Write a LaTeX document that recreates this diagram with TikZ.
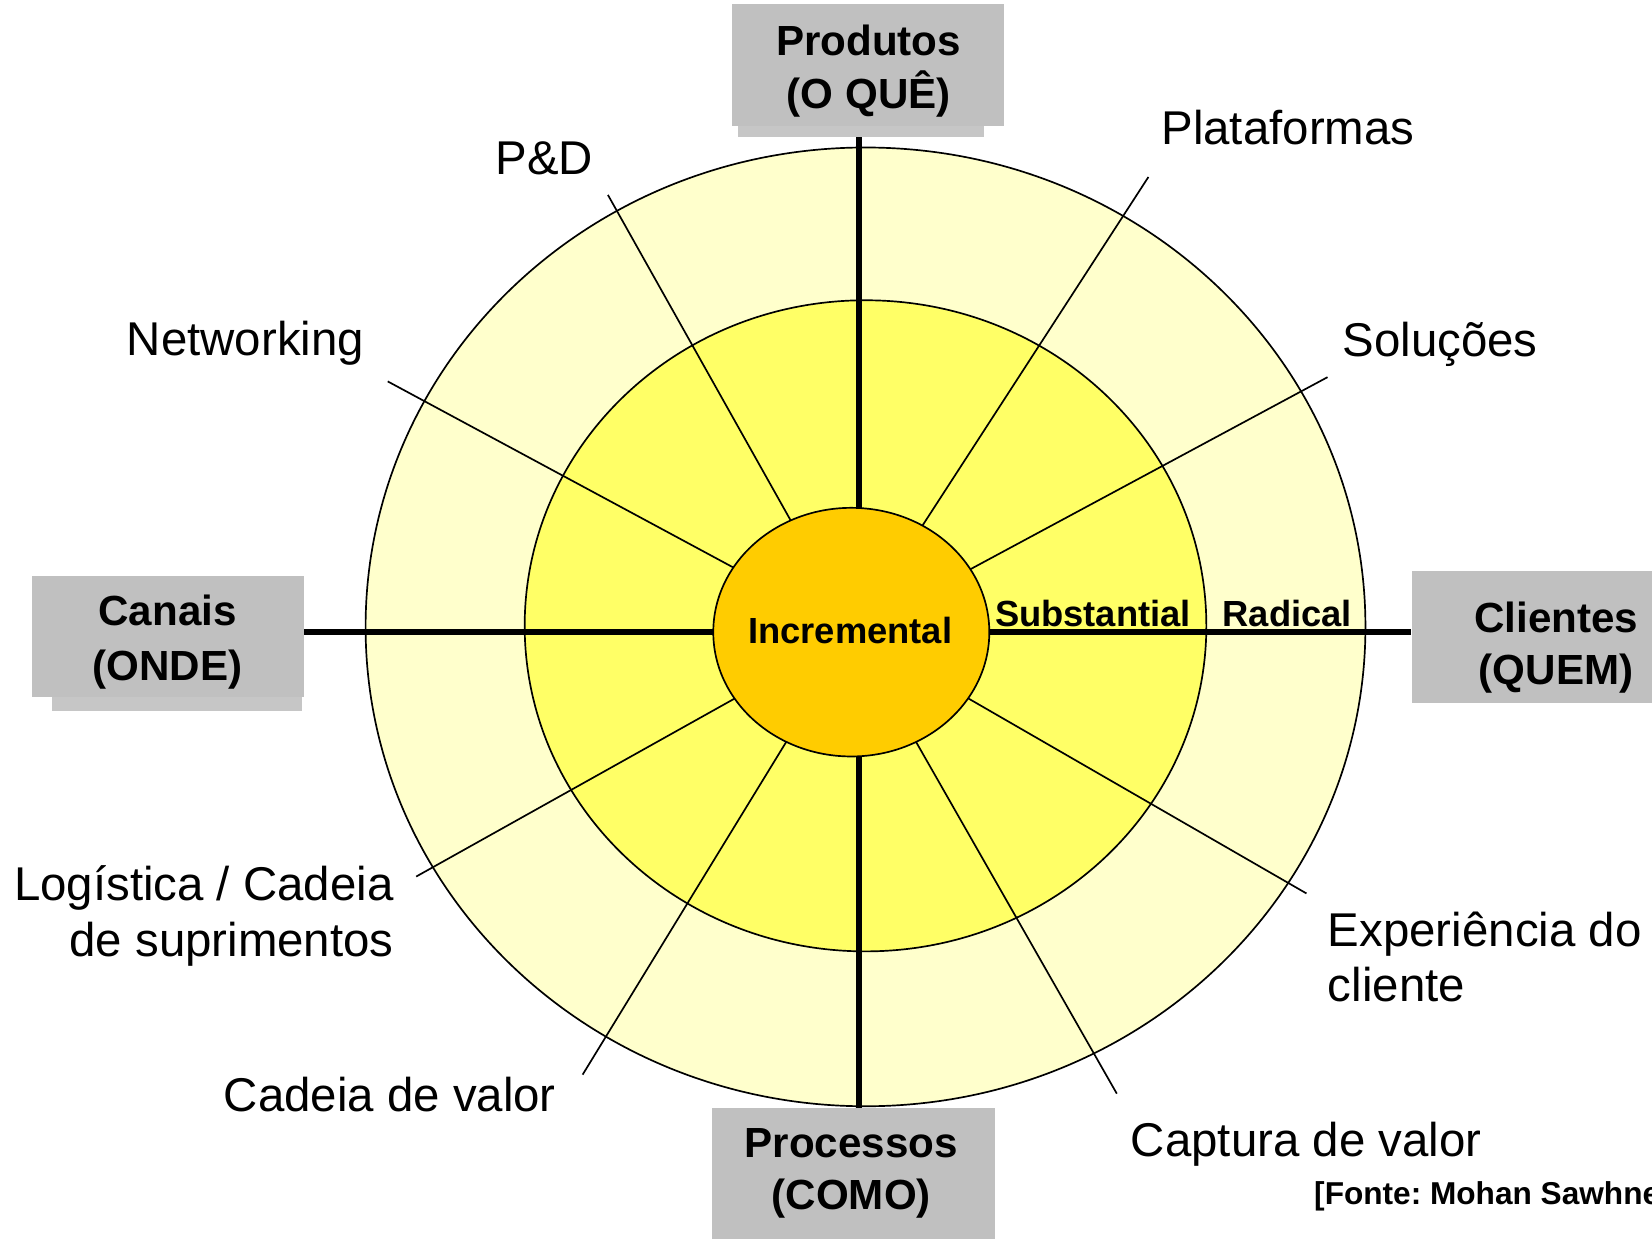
\documentclass[tikz,border=0pt]{standalone}
\usepackage{fontspec}
\setmainfont{Liberation Sans}
\usetikzlibrary{shapes.geometric}
\definecolor{outerY}{HTML}{FFFFCC}
\definecolor{midY}{HTML}{FFFF66}
\definecolor{innerY}{HTML}{FFCC00}
\definecolor{boxgray}{HTML}{C0C0C0}
\definecolor{stripgray}{HTML}{C6C6C6}
\tikzset{
  lbl/.style={font=\fontsize{22.5}{27}\selectfont, inner sep=0pt},
  boxlbl/.style={font=\bfseries\fontsize{20}{24}\selectfont, inner sep=0pt, anchor=base},
  ringlbl/.style={font=\bfseries\fontsize{17.25}{20}\selectfont, inner sep=0pt},
  srclbl/.style={font=\bfseries\fontsize{15}{18}\selectfont, inner sep=0pt},
  graybox/.style={fill=boxgray, draw=none, inner sep=0pt, rectangle},
  stripbox/.style={fill=stripgray, draw=none, inner sep=0pt, rectangle},
  ringline/.style={draw=black, line width=0.8pt},
  spoke/.style={draw=black, line width=0.8pt},
  axisline/.style={draw=black, line width=2.85pt}
}
\begin{document}
\frenchspacing
\begin{tikzpicture}[x=0.5pt,y=-0.5pt]
\useasboundingbox (0,0) rectangle (1568,1176);
\clip (0,0) rectangle (1568,1176);

% rings
\fill[outerY] (821.5,595) ellipse [x radius=474.5, y radius=455];
\draw[ringline] (821.5,595) ellipse [x radius=474.5, y radius=455];
\fill[midY] (821.5,594) ellipse [x radius=323.5, y radius=309];
\draw[ringline] (821.5,594) ellipse [x radius=323.5, y radius=309];

% spokes
\coordinate (c) at (810,600);
\coordinate (pd) at (577,185);
\coordinate (plat) at (1090,168);
\coordinate (sol) at (1260,358);
\coordinate (net) at (368,362);
\coordinate (log) at (395,832);
\coordinate (cad) at (553,1020);
\coordinate (cap) at (1060,1038);
\coordinate (exp) at (1240,848);
\foreach \e in {pd,plat,sol,net,log,cad,cap,exp}
  \draw[spoke] (c) -- (\e);

% boxes
\node[graybox, minimum width=129pt, minimum height=57.75pt] (prod) at (824,61.75) {};
\node[stripbox, minimum width=117pt, minimum height=5.25pt] (prodsh) at (817,124.75) {};
\node[graybox, minimum width=128.9pt, minimum height=57.4pt] (can) at (159.6,604.1) {};
\node[stripbox, minimum width=119pt, minimum height=6.75pt] (cansh) at (168,668.25) {};
\node[graybox, minimum width=130pt, minimum height=62.5pt] (cli) at (1470,604.5) {};
\node[graybox, minimum width=134.2pt, minimum height=74pt] (proc) at (809.8,1126) {};

% axes
\coordinate (axc) at (815,600);
\draw[axisline] (prodsh.south -| axc) -- (proc.north -| axc);
\draw[axisline] (can.east |- axc) -- (cli.west |- axc);

% inner ellipse
\node[ellipse, fill=innerY, draw=black, line width=0.8pt, inner sep=0pt,
      minimum width=131pt, minimum height=118pt] (inc) at (808,600) {};
\node[ringlbl, anchor=base] (incl) at (807,611) {Incremental};

% box labels
\node[boxlbl] (prodA) at (824.5,53) {Produtos};
\node[boxlbl] (prodB) at (824.5,103) {(O QUÊ)};
\node[boxlbl] (canA) at (159,594) {Canais};
\node[boxlbl] (canB) at (159,646) {(ONDE)};
\node[boxlbl] (cliA) at (1477,600) {Clientes};
\node[boxlbl] (cliB) at (1477,650) {(QUEM)};
\node[boxlbl] (procA) at (808,1099) {Processos};
\node[boxlbl] (procB) at (808,1148) {(COMO)};

% ring labels
\node[ringlbl, anchor=base west] (subst) at (944,595) {Substantial};
\node[ringlbl, anchor=base west] (rad) at (1160,595) {Radical};

% spoke labels
\node[lbl, anchor=base west] (lplat) at (1102,137) {Plataformas};
\node[lbl, anchor=base west] (lpd) at (470,166) {P\&D};
\node[lbl, anchor=base west] (lsol) at (1274,338) {Soluções};
\node[lbl, anchor=base west] (lnet) at (120,337) {Networking};
\node[lbl, anchor=base east] (llogA) at (374,855) {Logística / Cadeia};
\node[lbl, anchor=base east] (llogB) at (374,908) {de suprimentos};
\node[lbl, anchor=base west] (lexpA) at (1260,898) {Experiência do};
\node[lbl, anchor=base west] (lexpB) at (1260,951) {cliente};
\node[lbl, anchor=base west] (lcad) at (212,1055) {Cadeia de valor};
\node[lbl, anchor=base west] (lcap) at (1073,1098) {Captura de valor};

% source
\node[srclbl, anchor=base west] (src) at (1247,1143) {[Fonte: Mohan Sawhney]};
\end{tikzpicture}
\end{document}
